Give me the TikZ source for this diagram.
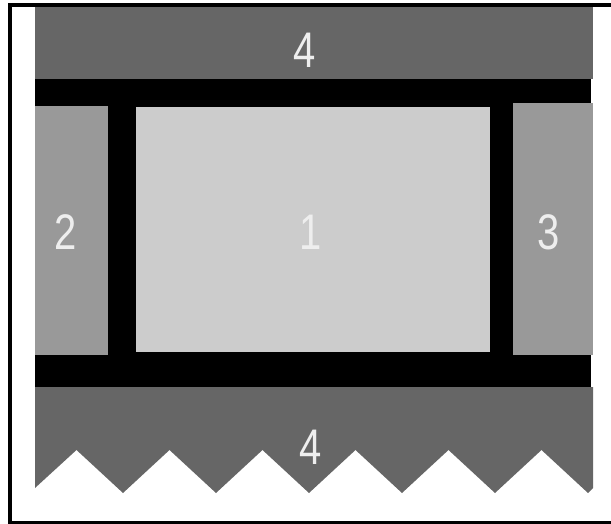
\documentclass[tikz,border=0pt]{standalone}
\usepackage{fontspec}
\setmainfont{Liberation Sans}
\newfontfamily\digitfont[FakeStretch=0.8]{Liberation Sans}
\usepackage{tikz}
\usetikzlibrary{positioning}
\definecolor{darkpanel}{HTML}{666666}
\definecolor{midbox}{HTML}{999999}
\definecolor{lightbox}{HTML}{CCCCCC}
\definecolor{digitgray}{HTML}{EEEEEE}

\begin{document}
\begin{tikzpicture}[x=1pt, y=-1pt,
    digit/.style={text=digitgray, font=\digitfont\fontsize{50}{50}\selectfont, inner sep=0pt}]
  \useasboundingbox (0,0) rectangle (611,524);
  % Frame
  \fill (8,3) rectangle (611,7);
  \fill (8,3) rectangle (11.5,524);
  \fill (8,521) rectangle (611,524);
  % Top panel
  \fill[darkpanel] (35,7) rectangle (593,79);
  % Black bars
  \fill (35,79) rectangle (591,387);
  % Boxes
  \fill[midbox] (35,106) rectangle (108,355);
  \fill[lightbox] (136,107) rectangle (490,352);
  \fill[midbox] (513,103) rectangle (593,355);
  % Bottom panel, zigzag edge
  \fill[darkpanel] (35,387) -- (593,387) -- (593,488)
    \foreach \k in {5,4,...,0} { -- ({123+93*\k},493) -- ({76.5+93*\k},450) }
    -- (35,488) -- cycle;
  % Labels
  \node[digit] (topfour) at (305,50) {4};
  \node[digit] (one) at (311,232) {1};
  \node[digit] (two) at (66,232) {2};
  \node[digit] (three) at (549,232) {3};
  \node[digit] (botfour) at (311,447) {4};
\end{tikzpicture}
\end{document}
